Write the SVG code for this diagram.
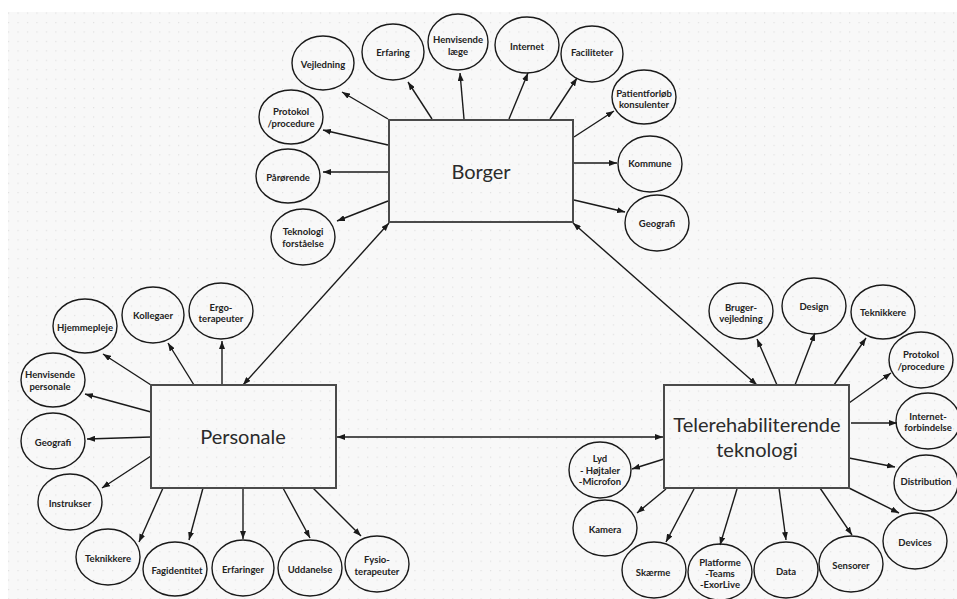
<svg xmlns="http://www.w3.org/2000/svg" width="957" height="599" viewBox="0 0 957 599">
<defs>
<pattern id="dots" x="8" y="12.5" width="9.45" height="9.45" patternUnits="userSpaceOnUse">
<rect x="0" y="0" width="1.2" height="1.2" fill="#e0e0e0"/>
</pattern>
<marker id="ah" viewBox="0 0 8 6" refX="8" refY="3" markerWidth="8" markerHeight="6" markerUnits="userSpaceOnUse" orient="auto-start-reverse">
<path d="M0,0 L8,3 L0,6 Z" fill="#1a1a1a"/>
</marker>
<style>
.box{fill:none;stroke:#4a4a4a;stroke-width:2}
.el{fill:none;stroke:#1a1a1a;stroke-width:1.4}
.big{font-family:Lato,"Liberation Sans",sans-serif;font-size:20px;fill:#2b2b2b;text-anchor:middle}
.lb{font-family:Lato,"Liberation Sans",sans-serif;font-size:9.5px;font-weight:bold;fill:#222;text-anchor:middle;dominant-baseline:central}
.cn line{stroke:#1a1a1a;stroke-width:1.4;marker-end:url(#ah)}
.cn line.dbl{marker-start:url(#ah)}
</style>
</defs>
<rect x="0" y="0" width="957" height="599" fill="#ffffff"/>
<rect x="8" y="12" width="949" height="587" fill="#f8f8f8"/>
<rect x="8" y="12" width="949" height="587" fill="url(#dots)"/>

<g id="connectors" class="cn">
<line class="dbl" x1="389" y1="223" x2="243" y2="385"/>
<line class="dbl" x1="573" y1="223" x2="757" y2="385"/>
<line class="dbl" x1="337" y1="437" x2="663" y2="437"/>
<!-- Borger -->
<line x1="388" y1="119" x2="342" y2="92"/>
<line x1="432" y1="119" x2="408" y2="82"/>
<line x1="464" y1="119" x2="460" y2="73"/>
<line x1="509" y1="119" x2="528" y2="73"/>
<line x1="550" y1="119" x2="577" y2="78"/>
<line x1="574" y1="137" x2="614" y2="111"/>
<line x1="574" y1="163" x2="617" y2="163"/>
<line x1="574" y1="200" x2="625" y2="212"/>
<line x1="388" y1="145" x2="323" y2="130"/>
<line x1="388" y1="172" x2="323" y2="172"/>
<line x1="388" y1="201" x2="337" y2="221"/>
<!-- Personale -->
<line x1="151" y1="385" x2="103" y2="354"/>
<line x1="194" y1="385" x2="168" y2="343"/>
<line x1="222" y1="385" x2="222" y2="341"/>
<line x1="151" y1="412" x2="85" y2="394"/>
<line x1="151" y1="437" x2="87" y2="439"/>
<line x1="151" y1="456" x2="102" y2="488"/>
<line x1="163" y1="488" x2="139" y2="542"/>
<line x1="203" y1="488" x2="189" y2="540"/>
<line x1="243" y1="488" x2="243" y2="539"/>
<line x1="283" y1="488" x2="310" y2="538"/>
<line x1="313" y1="488" x2="361" y2="536"/>
<!-- Tele -->
<line x1="777" y1="385" x2="757" y2="339"/>
<line x1="795" y1="385" x2="815" y2="333"/>
<line x1="834" y1="385" x2="866" y2="338"/>
<line x1="849" y1="403" x2="891" y2="373"/>
<line x1="851" y1="423" x2="897" y2="423"/>
<line x1="849" y1="458" x2="895" y2="467"/>
<line x1="849" y1="488" x2="899" y2="513"/>
<line x1="664" y1="459" x2="632" y2="469"/>
<line x1="666" y1="489" x2="637" y2="513"/>
<line x1="694" y1="489" x2="666" y2="542"/>
<line x1="737" y1="489" x2="720" y2="545"/>
<line x1="779" y1="488" x2="786" y2="540"/>
<line x1="820" y1="488" x2="852" y2="535"/>
</g>

<g id="borger"><rect class="box" x="389" y="120" width="184" height="102"/><text class="big" x="481" y="179">Borger</text></g>
<g id="personale"><rect class="box" x="151" y="385" width="185" height="103"/><text class="big" x="243" y="444">Personale</text></g>
<g id="tele"><rect class="box" x="664" y="385" width="185" height="103"/><text class="big" x="757" y="432">Telerehabiliterende</text><text class="big" x="757" y="457">teknologi</text></g>

<!-- Borger nodes -->
<g id="b-vejledning"><ellipse class="el" cx="323" cy="63" rx="31" ry="27"/><text class="lb" x="323" y="64">Vejledning</text></g>
<g id="b-erfaring"><ellipse class="el" cx="393" cy="52" rx="31" ry="28"/><text class="lb" x="393" y="52">Erfaring</text></g>
<g id="b-henvisende"><ellipse class="el" cx="458" cy="42" rx="30" ry="28"/><text class="lb" x="458" y="39">Henvisende</text><text class="lb" x="458" y="51">læge</text></g>
<g id="b-internet"><ellipse class="el" cx="527" cy="45" rx="32" ry="28"/><text class="lb" x="527" y="46">Internet</text></g>
<g id="b-faciliteter"><ellipse class="el" cx="592" cy="54" rx="31" ry="28"/><text class="lb" x="592" y="52">Faciliteter</text></g>
<g id="b-patient"><ellipse class="el" cx="644" cy="97" rx="32" ry="27"/><text class="lb" x="644" y="93">Patientforløb</text><text class="lb" x="644" y="104">konsulenter</text></g>
<g id="b-kommune"><ellipse class="el" cx="650" cy="164" rx="32" ry="28"/><text class="lb" x="650" y="163">Kommune</text></g>
<g id="b-geografi"><ellipse class="el" cx="657" cy="223" rx="32" ry="28"/><text class="lb" x="657" y="223">Geografi</text></g>
<g id="b-protokol"><ellipse class="el" cx="291" cy="117" rx="32" ry="27"/><text class="lb" x="291" y="111">Protokol</text><text class="lb" x="291" y="123">/procedure</text></g>
<g id="b-paarorende"><ellipse class="el" cx="288" cy="176" rx="32" ry="27"/><text class="lb" x="288" y="177">Pårørende</text></g>
<g id="b-teknologi"><ellipse class="el" cx="303" cy="237" rx="32" ry="28"/><text class="lb" x="303" y="231">Teknologi</text><text class="lb" x="303" y="243">forståelse</text></g>

<!-- Personale nodes -->
<g id="p-hjemmepleje"><ellipse class="el" cx="85" cy="326" rx="32" ry="27"/><text class="lb" x="85" y="327">Hjemmepleje</text></g>
<g id="p-kollegaer"><ellipse class="el" cx="153" cy="315" rx="31" ry="28"/><text class="lb" x="153" y="315">Kollegaer</text></g>
<g id="p-ergo"><ellipse class="el" cx="221" cy="311" rx="32" ry="28"/><text class="lb" x="221" y="307">Ergo-</text><text class="lb" x="221" y="318">terapeuter</text></g>
<g id="p-henvisende"><ellipse class="el" cx="53" cy="380" rx="32" ry="27"/><text class="lb" x="50" y="374">Henvisende</text><text class="lb" x="50" y="386">personale</text></g>
<g id="p-geografi"><ellipse class="el" cx="53" cy="441" rx="32" ry="28"/><text class="lb" x="53" y="442">Geografi</text></g>
<g id="p-instrukser"><ellipse class="el" cx="70" cy="502" rx="32" ry="28"/><text class="lb" x="70" y="503">Instrukser</text></g>
<g id="p-teknikkere"><ellipse class="el" cx="108" cy="557" rx="32" ry="28"/><text class="lb" x="108" y="558">Teknikkere</text></g>
<g id="p-fagidentitet"><ellipse class="el" cx="175" cy="569" rx="32" ry="27"/><text class="lb" x="177" y="570">Fagidentitet</text></g>
<g id="p-erfaringer"><ellipse class="el" cx="243" cy="568" rx="31" ry="28"/><text class="lb" x="243" y="569">Erfaringer</text></g>
<g id="p-uddanelse"><ellipse class="el" cx="310" cy="568" rx="32" ry="28"/><text class="lb" x="310" y="569">Uddanelse</text></g>
<g id="p-fysio"><ellipse class="el" cx="377" cy="564" rx="32" ry="28"/><text class="lb" x="377" y="559">Fysio-</text><text class="lb" x="377" y="571">terapeuter</text></g>

<!-- Tele nodes -->
<g id="t-bruger"><ellipse class="el" cx="741" cy="311" rx="32" ry="28"/><text class="lb" x="741" y="307">Bruger-</text><text class="lb" x="741" y="318">vejledning</text></g>
<g id="t-design"><ellipse class="el" cx="814" cy="306" rx="32" ry="28"/><text class="lb" x="814" y="306">Design</text></g>
<g id="t-teknikkere"><ellipse class="el" cx="883" cy="312" rx="32" ry="27"/><text class="lb" x="883" y="312">Teknikkere</text></g>
<g id="t-protokol"><ellipse class="el" cx="921" cy="360" rx="32" ry="28"/><text class="lb" x="921" y="354">Protokol</text><text class="lb" x="921" y="366">/procedure</text></g>
<g id="t-internet"><ellipse class="el" cx="928" cy="421" rx="32" ry="28"/><text class="lb" x="928" y="416">Internet-</text><text class="lb" x="928" y="427">forbindelse</text></g>
<g id="t-distribution"><ellipse class="el" cx="926" cy="483" rx="32" ry="28"/><text class="lb" x="926" y="481">Distribution</text></g>
<g id="t-devices"><ellipse class="el" cx="915" cy="541" rx="32" ry="28"/><text class="lb" x="915" y="542">Devices</text></g>
<g id="t-lyd"><ellipse class="el" cx="600" cy="470" rx="31" ry="28"/><text class="lb" x="600" y="458">Lyd</text><text class="lb" x="600" y="470">- Højtaler</text><text class="lb" x="600" y="481">-Microfon</text></g>
<g id="t-kamera"><ellipse class="el" cx="605" cy="528" rx="32" ry="28"/><text class="lb" x="605" y="529">Kamera</text></g>
<g id="t-skaerme"><ellipse class="el" cx="654" cy="570" rx="32" ry="28"/><text class="lb" x="653" y="572">Skærme</text></g>
<g id="t-platforme"><ellipse class="el" cx="720" cy="572" rx="32" ry="28"/><text class="lb" x="720" y="562">Platforme</text><text class="lb" x="720" y="573">-Teams</text><text class="lb" x="720" y="584">-ExorLive</text></g>
<g id="t-data"><ellipse class="el" cx="786" cy="570" rx="32" ry="28"/><text class="lb" x="786" y="571">Data</text></g>
<g id="t-sensorer"><ellipse class="el" cx="851" cy="564" rx="32" ry="28"/><text class="lb" x="851" y="565">Sensorer</text></g>
</svg>
